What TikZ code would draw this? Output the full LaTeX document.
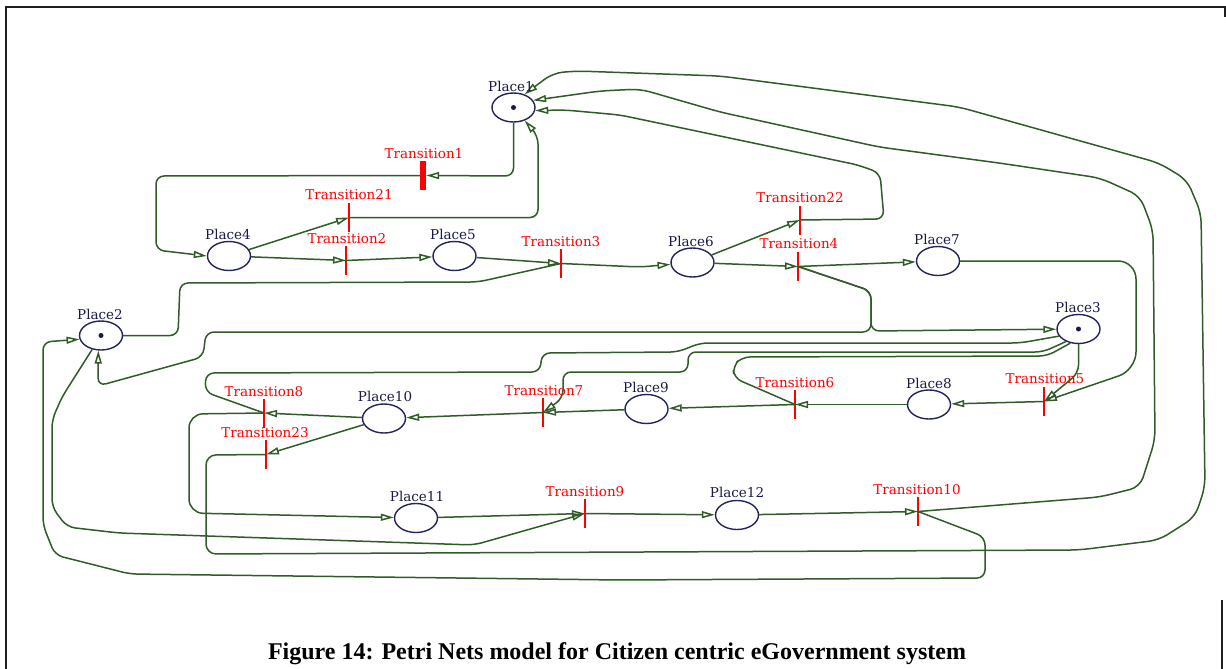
\documentclass[tikz,border=0pt]{standalone}
\usepackage{fontspec}
\setmainfont{Liberation Serif}
\newfontfamily\lblfont{DejaVu Serif}
\usetikzlibrary{shapes.geometric,arrows.meta}
\definecolor{arcgreen}{RGB}{48,92,40}
\definecolor{placeblue}{RGB}{35,35,95}
\definecolor{labelblue}{RGB}{25,25,70}
\definecolor{transred}{RGB}{255,0,0}
\definecolor{framegray}{RGB}{30,30,30}
\begin{document}
\begin{tikzpicture}[x=1pt,y=-1pt,
  place/.style={ellipse,draw=placeblue,line width=1.4pt,minimum width=43pt,minimum height=29pt,inner sep=0pt},
  token/.style={circle,fill=labelblue,inner sep=0pt,minimum size=5pt},
  trans/.style={rectangle,fill=transred,inner sep=0pt,minimum width=1.8pt,minimum height=29pt},
  bigtrans/.style={trans,minimum width=6pt},
  plabel/.style={font=\lblfont\fontsize{13.5}{13.5}\selectfont,text=labelblue,inner sep=1pt},
  tlabel/.style={font=\lblfont\fontsize{13.5}{13.5}\selectfont,text=transred,inner sep=1pt},
  arcto/.style={draw=arcgreen,line width=1.5pt,rounded corners=8pt,-{Triangle[open,length=13pt,width=7pt]}},
  arcplain/.style={draw=arcgreen,line width=1.5pt,rounded corners=8pt},
  framestyle/.style={draw=framegray,line width=2pt},
]
\useasboundingbox (0,0) rectangle (1226,669);
\draw[framestyle] (1225,17) -- (1225,7) -- (6,7) -- (6,669);
\draw[framestyle] (1222,600) -- (1222,669);

% places
\node[place] (p1) at (513.5,107.5) {};
\node[place] (p2) at (101,335.5) {};
\node[place] (p3) at (1078.5,329) {};
\node[place] (p4) at (229,256) {};
\node[place] (p5) at (454.5,256) {};
\node[place] (p6) at (692.5,262.5) {};
\node[place] (p7) at (938,261) {};
\node[place] (p8) at (929,404.5) {};
\node[place] (p9) at (646.5,409) {};
\node[place] (p10) at (384,418.5) {};
\node[place] (p11) at (416,518) {};
\node[place] (p12) at (737,515) {};
\node[token] (tok1) at (p1) {};
\node[token] (tok2) at (p2) {};
\node[token] (tok3) at (p3) {};

% transitions
\node[bigtrans] (t1) at (423,175.5) {};
\node[trans] (t21) at (349,217.5) {};
\node[trans] (t2) at (346,260.5) {};
\node[trans] (t3) at (561,263.5) {};
\node[trans] (t22) at (800,220) {};
\node[trans] (t4) at (798,266.5) {};
\node[trans] (t5) at (1044,401.5) {};
\node[trans] (t6) at (795,404.5) {};
\node[trans] (t7) at (543,412.5) {};
\node[trans] (t8) at (264,413) {};
\node[trans] (t23) at (266,454.5) {};
\node[trans] (t9) at (585,513.5) {};
\node[trans] (t10) at (918,511.5) {};

% arcs
\draw[arcto] (p1.south) -- (513.5,176) -- (t1.east);
\draw[arcto] (t1.west) -- (156,176) -- (156,250) -- (p4.west);
\draw[arcto] (p4) -- (t21.center);
\draw[arcto] (t21.center) -- (538,217.5) -- (538,136) -- (p1);
\draw[arcto] (p4) -- (t2.center);
\draw[arcto] (t2.center) -- (p5);
\draw[arcto] (p5) -- (t3.center);
\draw[arcplain] (p2.east) -- (178,335.5) -- (180,283) -- (478,282) -- (t3.center);
\draw[arcto] (t3.center) -- (640,267) -- (p6);
\draw[arcto] (p6) -- (t22.center);
\draw[arcto] (t22.center) -- (884,219) -- (880,173) -- (858,165) -- (620,115) -- (565,110) -- (p1.-8);
\draw[arcto] (p6) -- (t4.center);
\draw[arcto] (t4.center) -- (p7);
\draw[arcto] (t4.center) -- (871,291) -- (871,332) -- (206,332) -- (203,357) -- (98,386) -- (p2.-100);
\draw[arcto] (t4.center) -- (871,291) -- (871,331) -- (p3);
\draw[arcto,rounded corners=18pt] (p7) -- (1136,261) -- (1136,370) -- (t5.center);
\draw[arcto] (p3.south) -- (1078.5,373) -- (t5.center);
\draw[arcto] (t5.center) -- (p8);
\draw[arcto] (p8) -- (t6.center);
\draw[arcplain] (p3.240) -- (1047,356) -- (742,357) -- (733,366) -- (734,378) -- (t6.center);
\draw[arcto] (t6.center) -- (p9);
\draw[arcto] (p9) -- (t7.center);
\draw[arcto] (p3.225) -- (1043,352) -- (688,352) -- (688,372) -- (563,372) -- (563,398) -- (t7.center);
\draw[arcto] (t7.center) -- (p10);
\draw[arcplain] (p3.200) -- (1020,343) -- (700,343) -- (678,352) -- (542,353) -- (540,372) -- (206,373) -- (205,392) -- (t8.center);
\draw[arcto] (p10) -- (t8.center);
\draw[arcto,rounded corners=14pt] (t8.center) -- (189,414) -- (189,513) -- (p11);
\draw[arcto] (p10) -- (t23.center);
\draw[arcto,rounded corners=10pt] (t23.center) -- (206,455) -- (206,554) -- (1079,550) -- (1159,540) -- (1195,517) -- (1205,487) -- (1201,213) -- (1187,180) -- (1159,163) -- (959,107) -- (720,76) -- (577,71) -- (553,73) -- (p1.50);
\draw[arcto] (p11) -- (t9.center);
\draw[arcto] (p2) -- (62,397) -- (52,420) -- (52,507) -- (67,527) -- (119,533) -- (474,545) -- (t9.center);
\draw[arcto] (t9.center) -- (p12);
\draw[arcto] (p12) -- (t10.center);
\draw[arcto,rounded corners=10pt] (t10.center) -- (1100,497) -- (1140,487) -- (1155,440) -- (1153,230) -- (1140,196) -- (1100,178) -- (999,163) -- (879,147) -- (720,112) -- (640,89) -- (600,91) -- (p1.20);
\draw[arcto] (t10.center) -- (985,537) -- (985,578) -- (620,580) -- (130,574) -- (55,555) -- (43,525) -- (43,342) -- (p2.190);

% labels
\node[plabel] (lp1) at (511,86) {Place1};
\node[plabel] (lp2) at (100,314) {Place2};
\node[plabel] (lp3) at (1078,307) {Place3};
\node[plabel] (lp4) at (228,234) {Place4};
\node[plabel] (lp5) at (453,234) {Place5};
\node[plabel] (lp6) at (691,241) {Place6};
\node[plabel] (lp7) at (937,239) {Place7};
\node[plabel] (lp8) at (929,383) {Place8};
\node[plabel] (lp9) at (646,387) {Place9};
\node[plabel] (lp10) at (385,396) {Place10};
\node[plabel] (lp11) at (417,496) {Place11};
\node[plabel] (lp12) at (737,492) {Place12};
\node[tlabel] (lt1) at (424,154) {Transition1};
\node[tlabel] (lt21) at (349,195) {Transition21};
\node[tlabel] (lt2) at (347,239) {Transition2};
\node[tlabel] (lt3) at (561,242) {Transition3};
\node[tlabel] (lt22) at (800,198) {Transition22};
\node[tlabel] (lt4) at (799,244) {Transition4};
\node[tlabel] (lt5) at (1045,379) {Transition5};
\node[tlabel] (lt6) at (795,383) {Transition6};
\node[tlabel] (lt7) at (544,391) {Transition7};
\node[tlabel] (lt8) at (264,392) {Transition8};
\node[tlabel] (lt23) at (265,433) {Transition23};
\node[tlabel] (lt9) at (585,492) {Transition9};
\node[tlabel] (lt10) at (917,490) {Transition10};

\node[font=\bfseries\fontsize{24}{24}\selectfont] (cap) at (617,654) {Figure 14: Petri Nets model for Citizen centric eGovernment system};
\end{tikzpicture}
\end{document}
